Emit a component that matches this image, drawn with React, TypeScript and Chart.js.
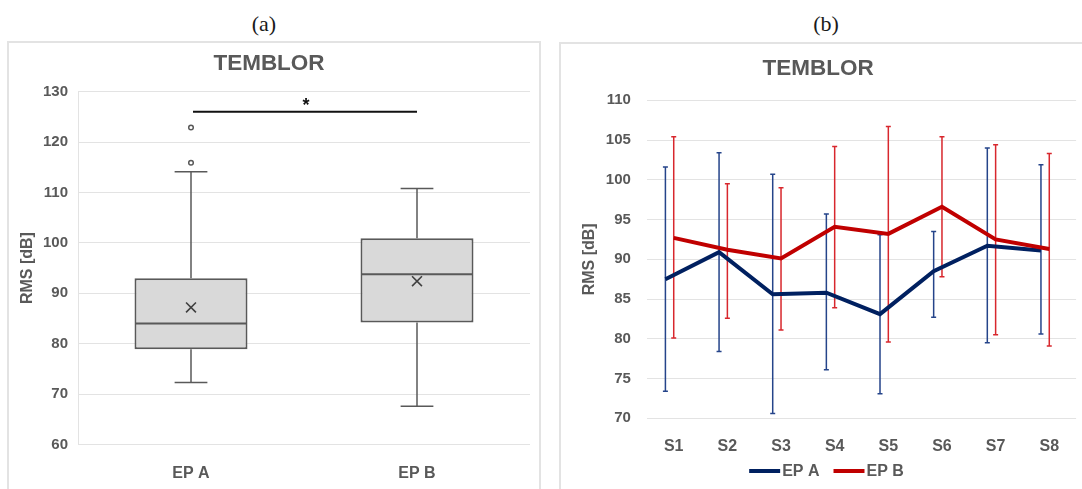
import React, { useEffect, useRef } from 'react';
import { Chart, registerables } from 'chart.js';

Chart.register(...registerables);

// ---------- Panel (a): box plot ----------
const GROUPS = ['EP A', 'EP B'];
const BOX_MIN = [72.3, 67.6];
const BOX_Q1 = [78.9, 84.2];
const BOX_MEDIAN = [84.0, 93.8];
const BOX_Q3 = [93.0, 100.9];
const BOX_MAX = [114.1, 110.8];
const BOX_MEAN = [87.2, 92.4];
const OUTLIERS_EPA = [115.9, 122.9];
const SIG_LEVEL = [126];
const SIG_LABEL = '*';
const A_Y_MIN = 60;
const A_Y_MAX = 130;
const A_Y_STEP = 10;

// ---------- Panel (b): means with error bars ----------
const SESSIONS = ['S1', 'S2', 'S3', 'S4', 'S5', 'S6', 'S7', 'S8'];
const EPA_MEAN = [87.5, 90.9, 85.6, 85.8, 83.1, 88.5, 91.7, 91.1];
const EPA_LOW = [73.4, 78.4, 70.6, 76.1, 73.1, 82.7, 79.5, 80.6];
const EPA_HIGH = [101.6, 103.4, 100.7, 95.7, 93.1, 93.5, 104.0, 101.9];
const EPB_MEAN = [92.7, 91.2, 90.1, 94.1, 93.2, 96.6, 92.5, 91.3];
const EPB_LOW = [80.1, 82.6, 81.1, 83.9, 79.6, 87.8, 80.5, 79.1];
const EPB_HIGH = [105.4, 99.5, 99.0, 104.2, 106.7, 105.4, 104.4, 103.3];
const B_Y_MIN = 70;
const B_Y_MAX = 110;
const B_Y_STEP = 5;

// styles
const TEXT = '#595959';
const GRID = '#e3e3e3';
const FONT = '"Liberation Sans", Arial, sans-serif';
const BLUE = '#002060';
const RED = '#c00000';
const BLUE_ERR = '#25448a';
const RED_ERR = '#d8272d';
const EPA_SHIFT = 0.155; // series A drawn slightly left of the category centre

const boxExtras = {
  id: 'boxExtras',
  beforeDatasetsDraw(chart: any) {
    const { ctx, scales } = chart;
    const y = scales.y;
    const meta = chart.getDatasetMeta(0);
    ctx.save();
    ctx.strokeStyle = TEXT;
    ctx.lineWidth = 1.5;
    GROUPS.forEach((_, i) => {
      const bar = meta.data[i];
      if (!bar) return;
      const cx = bar.x;
      const half = bar.width * 0.145;
      const segs = [
        [BOX_Q3[i], BOX_MAX[i]],
        [BOX_Q1[i], BOX_MIN[i]],
      ];
      segs.forEach(([from, to]) => {
        const y0 = y.getPixelForValue(from);
        const y1 = y.getPixelForValue(to);
        ctx.beginPath();
        ctx.moveTo(cx, y0);
        ctx.lineTo(cx, y1);
        ctx.moveTo(cx - half, y1);
        ctx.lineTo(cx + half, y1);
        ctx.stroke();
      });
    });
    ctx.restore();
  },
  afterDatasetDraw(chart: any, args: any) {
    if (args.index !== 0) return;
    const { ctx, scales } = chart;
    const y = scales.y;
    ctx.save();
    ctx.strokeStyle = TEXT;
    ctx.lineWidth = 2;
    args.meta.data.forEach((bar: any, i: number) => {
      const yy = y.getPixelForValue(BOX_MEDIAN[i]);
      ctx.beginPath();
      ctx.moveTo(bar.x - bar.width / 2 + 1, yy);
      ctx.lineTo(bar.x + bar.width / 2 - 1, yy);
      ctx.stroke();
    });
    ctx.restore();
  },
  afterDraw(chart: any) {
    const { ctx, scales } = chart;
    const x = scales.x;
    const y = scales.y;
    const x0 = x.getPixelForValue(0) + 2;
    const x1 = x.getPixelForValue(1);
    const yy = y.getPixelForValue(SIG_LEVEL[0]);
    ctx.save();
    ctx.strokeStyle = '#111';
    ctx.lineWidth = 2;
    ctx.beginPath();
    ctx.moveTo(x0, yy);
    ctx.lineTo(x1, yy);
    ctx.stroke();
    ctx.fillStyle = '#111';
    ctx.font = `bold 18px ${FONT}`;
    ctx.textAlign = 'center';
    ctx.textBaseline = 'alphabetic';
    ctx.fillText(SIG_LABEL, (x0 + x1) / 2 + 1, yy - 0.5);
    ctx.restore();
  },
};

const errorBars = {
  id: 'errorBars',
  beforeDatasetsDraw(chart: any) {
    const { ctx, scales } = chart;
    const y = scales.y;
    const sets = [
      { low: EPA_LOW, high: EPA_HIGH, color: BLUE_ERR },
      { low: EPB_LOW, high: EPB_HIGH, color: RED_ERR },
    ];
    ctx.save();
    ctx.lineWidth = 1.5;
    sets.forEach((s, d) => {
      const meta = chart.getDatasetMeta(d);
      ctx.strokeStyle = s.color;
      meta.data.forEach((pt: any, i: number) => {
        const px = pt.x;
        const yl = y.getPixelForValue(s.low[i]);
        const yh = y.getPixelForValue(s.high[i]);
        ctx.beginPath();
        ctx.moveTo(px, yl);
        ctx.lineTo(px, yh);
        ctx.moveTo(px - 2.5, yl);
        ctx.lineTo(px + 2.5, yl);
        ctx.moveTo(px - 2.5, yh);
        ctx.lineTo(px + 2.5, yh);
        ctx.stroke();
      });
    });
    ctx.restore();
  },
  afterDraw(chart: any) {
    const { ctx } = chart;
    const items = [
      { label: 'EP A', color: BLUE },
      { label: 'EP B', color: RED },
    ];
    ctx.save();
    ctx.font = `bold 16px ${FONT}`;
    const sample = 31;
    const gap = 2;
    const itemGap = 14;
    const widths = items.map((it) => ctx.measureText(it.label).width);
    const total = widths.reduce((a, w) => a + sample + gap + w, 0) + itemGap * (items.length - 1);
    let cx = chart.width / 2 - total / 2;
    const yy = 471;
    items.forEach((it, i) => {
      ctx.strokeStyle = it.color;
      ctx.lineWidth = 4;
      ctx.lineCap = 'butt';
      ctx.beginPath();
      ctx.moveTo(cx, yy);
      ctx.lineTo(cx + sample, yy);
      ctx.stroke();
      cx += sample + gap;
      ctx.fillStyle = TEXT;
      ctx.textAlign = 'left';
      ctx.textBaseline = 'middle';
      ctx.fillText(it.label, cx, yy + 1);
      cx += widths[i] + itemGap;
    });
    ctx.restore();
  },
};

function BoxPanel() {
  const ref = useRef<HTMLCanvasElement>(null);
  useEffect(() => {
    const chart = new Chart(ref.current as HTMLCanvasElement, {
      type: 'bar',
      data: {
        labels: GROUPS,
        datasets: [
          {
            type: 'bar',
            data: GROUPS.map((_, i) => [BOX_Q1[i], BOX_Q3[i]]) as any,
            backgroundColor: '#d9d9d9',
            borderColor: TEXT,
            borderWidth: 2,
            borderSkipped: false,
            barPercentage: 0.5,
            categoryPercentage: 1,
            order: 2,
          } as any,
          {
            type: 'line',
            data: BOX_MEAN,
            showLine: false,
            pointStyle: 'crossRot',
            pointRadius: 7,
            borderColor: '#404040',
            borderWidth: 1.6,
            order: 0,
          } as any,
          {
            type: 'line',
            data: OUTLIERS_EPA.map((v) => ({ x: GROUPS[0], y: v })),
            showLine: false,
            pointStyle: 'circle',
            pointRadius: 2.3,
            backgroundColor: '#ffffff',
            borderColor: TEXT,
            borderWidth: 1.5,
            order: 1,
          } as any,
        ],
      },
      options: {
        responsive: false,
        animation: false,
        events: [],
        layout: { padding: { left: 0, right: 10, top: 0, bottom: 0 } },
        plugins: {
          legend: { display: false },
          tooltip: { enabled: false },
          title: {
            display: true,
            text: 'TEMBLOR',
            color: TEXT,
            font: { family: FONT, size: 22.5, weight: 'bold' },
            padding: { top: 50.7, bottom: 14 },
          },
        },
        scales: {
          x: {
            type: 'category',
            offset: true,
            grid: { display: false },
            border: { display: false },
            ticks: { color: TEXT, font: { family: FONT, size: 16, weight: 'bold' }, padding: 11 },
            afterFit: (s: any) => { s.height = 44.5; },
          },
          y: {
            min: A_Y_MIN,
            max: A_Y_MAX,
            ticks: { stepSize: A_Y_STEP, color: TEXT, font: { family: FONT, size: 15, weight: 'bold' }, padding: 10 },
            grid: { color: GRID, lineWidth: 1, drawTicks: false },
            border: { display: true, color: GRID },
            title: {
              display: true,
              text: 'RMS [dB]',
              color: TEXT,
              font: { family: FONT, size: 16, weight: 'bold' },
              padding: { top: 9.5, bottom: 0 },
            },
            afterFit: (s: any) => { s.width = 70; },
          },
        },
      } as any,
      plugins: [boxExtras],
    });
    return () => chart.destroy();
  }, []);
  return <canvas ref={ref} width={532} height={489} style={{ position: 'absolute', left: 8, top: 0 }} />;
}

function LinePanel() {
  const ref = useRef<HTMLCanvasElement>(null);
  useEffect(() => {
    const chart = new Chart(ref.current as HTMLCanvasElement, {
      type: 'line',
      data: {
        datasets: [
          {
            label: 'EP A',
            data: SESSIONS.map((_, i) => ({ x: i + 1 - EPA_SHIFT, y: EPA_MEAN[i] })),
            borderColor: BLUE,
            backgroundColor: BLUE,
            borderWidth: 4,
            pointRadius: 0,
            tension: 0,
            order: 1,
          },
          {
            label: 'EP B',
            data: SESSIONS.map((_, i) => ({ x: i + 1, y: EPB_MEAN[i] })),
            borderColor: RED,
            backgroundColor: RED,
            borderWidth: 4,
            pointRadius: 0,
            tension: 0,
            order: 0,
          },
        ],
      },
      options: {
        responsive: false,
        animation: false,
        events: [],
        layout: { padding: { left: 0, right: 16.9, top: 0, bottom: 0 } },
        plugins: {
          legend: { display: false },
          tooltip: { enabled: false },
          title: {
            display: true,
            text: 'TEMBLOR',
            color: TEXT,
            font: { family: FONT, size: 22.5, weight: 'bold' },
            padding: { top: 54.8, bottom: 18.5 },
          },
        },
        scales: {
          x: {
            type: 'linear',
            min: 0.5,
            max: 8.5,
            grid: { display: false },
            border: { display: false },
            afterBuildTicks: (s: any) => {
              s.ticks = SESSIONS.map((_, i) => ({ value: i + 1 }));
            },
            ticks: {
              autoSkip: false,
              color: TEXT,
              font: { family: FONT, size: 16, weight: 'bold' },
              padding: 11,
              callback: (v: any) => SESSIONS[Math.round(v) - 1] ?? '',
            },
            afterFit: (s: any) => { s.height = 70.7; },
          },
          y: {
            min: B_Y_MIN,
            max: B_Y_MAX,
            ticks: { stepSize: B_Y_STEP, color: TEXT, font: { family: FONT, size: 15, weight: 'bold' }, padding: 16 },
            grid: { color: GRID, lineWidth: 1, drawTicks: false },
            border: { display: false },
            title: {
              display: true,
              text: 'RMS [dB]',
              color: TEXT,
              font: { family: FONT, size: 16, weight: 'bold' },
              padding: { top: 20.4, bottom: 0 },
            },
            afterFit: (s: any) => { s.width = 86.9; },
          },
        },
      } as any,
      plugins: [errorBars],
    });
    return () => chart.destroy();
  }, []);
  return <canvas ref={ref} width={533} height={489} style={{ position: 'absolute', left: 560, top: 0 }} />;
}

export default function App() {
  const label: React.CSSProperties = {
    position: 'absolute',
    width: 100,
    textAlign: 'center',
    font: '22px "Liberation Serif", "Times New Roman", serif',
    lineHeight: '22px',
    color: '#1a1a1a',
    top: 12.8,
  };
  const panel: React.CSSProperties = {
    position: 'absolute',
    border: `2px solid ${GRID}`,
    boxSizing: 'border-box',
    height: 520,
  };
  return (
    <div style={{ position: 'absolute', left: 0, top: 0, width: 1082, height: 489, overflow: 'hidden', background: '#fff' }}>
      <div style={{ ...panel, left: 7, top: 41, width: 534 }} />
      <div style={{ ...panel, left: 559, top: 42, width: 560 }} />
      <div style={{ ...label, left: 214 }}>(a)</div>
      <div style={{ ...label, left: 776 }}>(b)</div>
      <BoxPanel />
      <LinePanel />
    </div>
  );
}
